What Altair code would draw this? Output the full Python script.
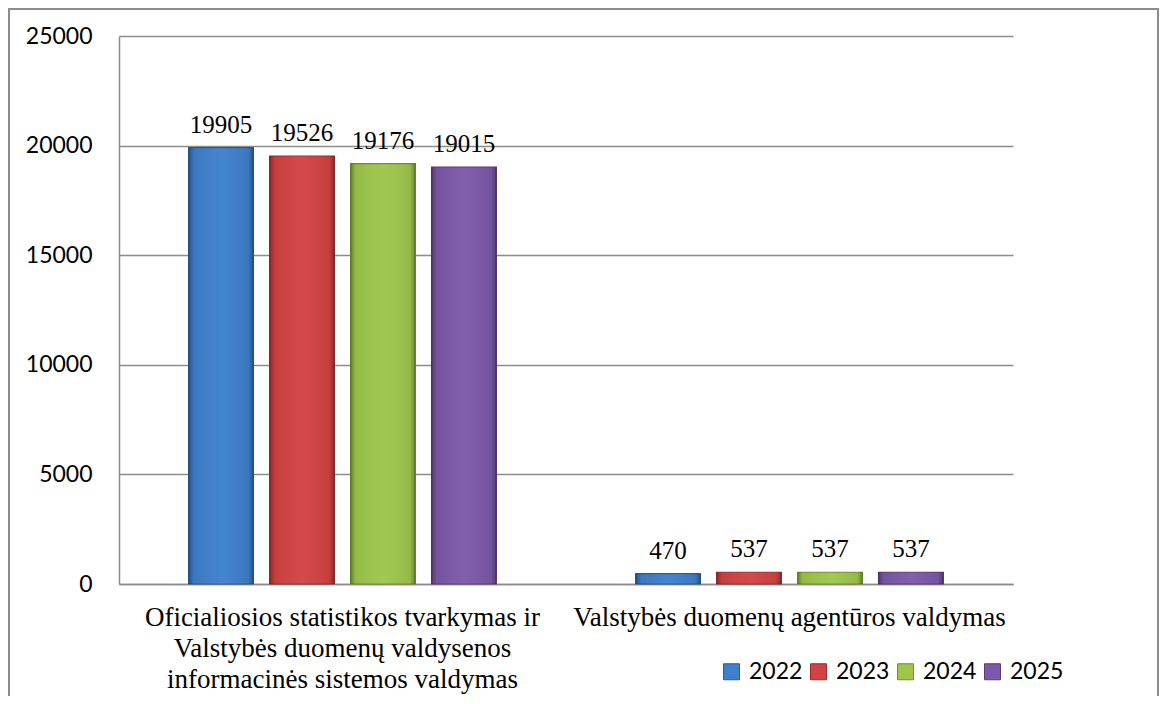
import altair as alt
import pandas as pd

categories = [
    "Oficialiosios statistikos tvarkymas ir|Valstybės duomenų valdysenos|informacinės sistemos valdymas",
    "Valstybės duomenų agentūros valdymas",
]
years = ["2022", "2023", "2024", "2025"]
values_cat1 = [19905, 19526, 19176, 19015]
values_cat2 = [470, 537, 537, 537]
y_ticks = [0, 5000, 10000, 15000, 20000, 25000]

colors = ["#3f7fcc", "#d24242", "#9dc64a", "#7d58a8"]
strokes = ["#2c5a94", "#9a2e2e", "#6f8f32", "#563c78"]

rows = []
for cat, vals in zip(categories, [values_cat1, values_cat2]):
    for yr, v in zip(years, vals):
        rows.append({"cat": cat, "year": yr, "value": v})
df = pd.DataFrame(rows)

GRAY = "#8c8c8c"

x_enc = alt.X("cat:N", sort=categories,
              scale=alt.Scale(paddingInner=0, paddingOuter=0),
              axis=alt.Axis(title=None, labelAngle=0, ticks=False,
                            labelExpr="split(datum.label, '|')",
                            labelFont="Liberation Serif", labelFontSize=27,
                            labelLineHeight=31, labelPadding=20,
                            labelColor="#000000", labelLimit=0,
                            domainColor=GRAY, domainWidth=1.5, grid=False))
xo_enc = alt.XOffset("year:N", sort=years,
                     scale=alt.Scale(paddingInner=0.2, paddingOuter=0.86))
y_enc = alt.Y("value:Q", scale=alt.Scale(domain=[0, 25000], nice=False),
              axis=alt.Axis(title=None, values=y_ticks, format="d", ticks=False,
                            labelFont="Lato", labelFontSize=23, labelPadding=27,
                            labelColor="#000000", grid=True, gridColor=GRAY,
                            gridWidth=1.5, domainColor=GRAY, domainWidth=1.5))

bars = alt.Chart(df).mark_bar(strokeWidth=1.2).encode(
    x=x_enc,
    xOffset=xo_enc,
    y=y_enc,
    color=alt.Color("year:N", sort=years,
                    scale=alt.Scale(domain=years, range=colors),
                    legend=alt.Legend(title=None, orient="none", direction="horizontal",
                                      legendX=601, legendY=624, padding=0,
                                      symbolType="square", symbolSize=256,
                                      symbolOpacity=1, symbolStrokeWidth=1,
                                      symbolStrokeColor="#555555",
                                      labelFont="Lato", labelFontSize=23,
                                      labelColor="#000000", labelOffset=6,
                                      columnPadding=4)),
    stroke=alt.Stroke("year:N", sort=years,
                      scale=alt.Scale(domain=years, range=strokes), legend=None),
)

shade = alt.LinearGradient(
    gradient="linear", x1=0, x2=1, y1=0, y2=0,
    stops=[
        alt.GradientStop(color="rgba(0,0,0,0.35)", offset=0),
        alt.GradientStop(color="rgba(0,0,0,0.06)", offset=0.08),
        alt.GradientStop(color="rgba(255,255,255,0.04)", offset=0.5),
        alt.GradientStop(color="rgba(0,0,0,0.06)", offset=0.92),
        alt.GradientStop(color="rgba(0,0,0,0.35)", offset=1),
    ],
)

bevel = alt.Chart(df).mark_bar(fill=shade, strokeWidth=0).encode(
    x=alt.X("cat:N", sort=categories),
    xOffset=alt.XOffset("year:N", sort=years),
    y=alt.Y("value:Q"),
)

labels = alt.Chart(df).mark_text(font="Liberation Serif", fontSize=25, dy=-15,
                                 baseline="alphabetic", align="center",
                                 color="#000000").encode(
    x=alt.X("cat:N", sort=categories),
    xOffset=alt.XOffset("year:N", sort=years),
    y=alt.Y("value:Q"),
    text=alt.Text("value:Q", format="d"),
)

frame = alt.Chart(alt.Data(values=[{}])).mark_rect(
    fill="#ffffff", fillOpacity=0, stroke=GRAY, strokeWidth=2, clip=False
).encode(x=alt.value(-110), x2=alt.value(1039), y=alt.value(-27), y2=alt.value(700))

chart = alt.layer(frame, bars, bevel, labels).properties(
    width=894, height=548,
    autosize=alt.AutoSizeParams(type="none"),
    padding={"left": 111, "top": 28, "right": 147, "bottom": 112},
    background="#ffffff",
).configure_view(stroke=None)

chart.save("out.html", embed_options={"renderer": "svg", "actions": False})
